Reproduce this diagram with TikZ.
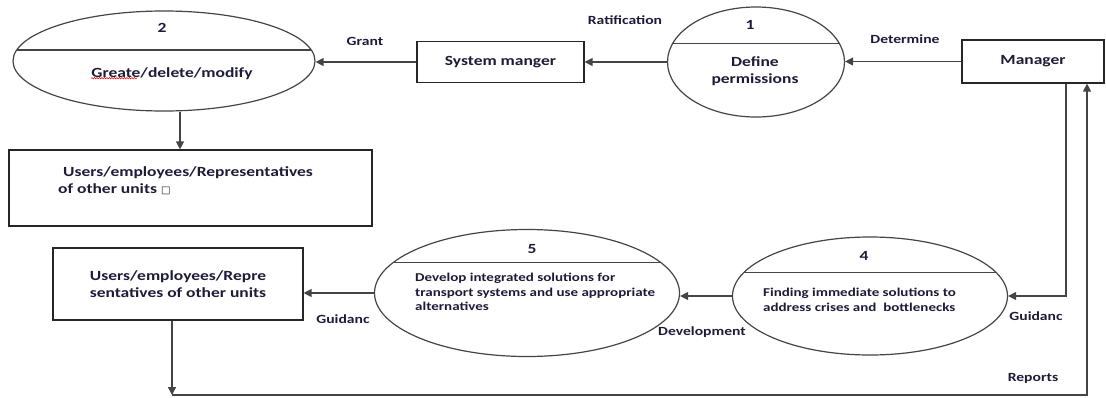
\documentclass[tikz,border=0pt]{standalone}
\usepackage{fontspec}
\setmainfont{Carlito}[FakeStretch=1.25]
\newfontfamily\symfont{DejaVu Sans}
\usetikzlibrary{shapes.geometric,arrows.meta,calc,decorations.pathmorphing}
\definecolor{dfdtext}{HTML}{1C1C38}
\definecolor{dfdline}{HTML}{444444}

\begin{document}
\begin{tikzpicture}[x=1pt,y=1pt,yscale=-1,
	proc/.style={ellipse,draw=dfdline,line width=1.2pt,inner sep=0pt,
		path picture={\draw[dfdline,line width=1.3pt]
			($(path picture bounding box.north west)!#1!(path picture bounding box.south west)$) --
			($(path picture bounding box.north east)!#1!(path picture bounding box.south east)$);}},
	store/.style={draw=black!85,line width=1.2pt,inner sep=2pt,align=center,
		font=\bfseries\fontsize{14}{17}\selectfont,text=dfdtext},
	txt/.style={text=dfdtext,font=\bfseries\fontsize{14}{17}\selectfont,inner sep=0pt},
	small/.style={text=dfdtext,font=\bfseries\fontsize{12}{14.5}\selectfont,inner sep=0pt,align=left},
	lbl/.style={text=dfdtext,font=\bfseries\fontsize{12.5}{15}\selectfont,inner sep=0pt},
	flow/.style={draw=dfdline,line width=1.3pt,-{Triangle[length=8pt,width=8pt]}}
	]
	\useasboundingbox (0,0) rectangle (1106,397);
	
	%Shape: Ellipse [process 2]
	\node [proc=0.39,minimum width=302,minimum height=100] (p2) at (164,61) {};
	%Shape: Ellipse [process 1]
	\node [proc=0.33,minimum width=177,minimum height=110] (p1) at (756,62) {};
	%Shape: Ellipse [process 4]
	\node [proc=0.30,minimum width=275,minimum height=118] (p4) at (870,296) {};
	%Shape: Ellipse [process 5]
	\node [proc=0.26,minimum width=305,minimum height=127] (p5) at (527,293) {};
	
	%Shape: Rectangle
	\node [store,minimum width=363,minimum height=76] (users1) at (190.5,188) {};
	\node [store,minimum width=167,minimum height=41] (sysmgr) at (500.5,62) {System manger};
	\node [store,minimum width=142,minimum height=43] (mgr) at (1033,61.5) {Manager};
	\node [store,minimum width=250,minimum height=72] (users2) at (178,284) {Users/employees/Repre\\sentatives of other units};
	
	%Straight Lines
	\draw [flow] (mgr.west) -- (mgr.west -| p1.east);
	\draw [flow] (p1.west) -- (p1.west -| sysmgr.east);
	\draw [flow] (sysmgr.west) -- (sysmgr.west -| p2.east);
	\draw [flow] ([xshift=16pt]p2.south) -- ([xshift=16pt]p2.south |- users1.north);
	\draw [flow] ([xshift=33pt]mgr.south) |- (p4.east);
	\draw [flow] (p4.west) -- (p4.west -| p5.east);
	\draw [flow] (p5.west) -- (p5.west -| users2.east);
	\coordinate (rep) at (172,395);
	\draw [flow] (users2.south -| rep) -- (rep);
	\draw [flow] (rep) -| ([xshift=54pt]mgr.south);
	
	% Text Node
	\node [txt] (n2) at (162,28) {2};
	\node [txt] (t2) at (172,74) {Greate/delete/modify};
	\draw [red,line width=0.5pt,decorate,decoration={snake,amplitude=0.7pt,segment length=2.5pt}] ([yshift=-2pt]t2.south west) -- ([xshift=46pt,yshift=-2pt]t2.south west);
	% Text Node
	\node [txt] (n1) at (750,25) {1};
	\node [txt,align=center] (t1) at (755,71) {Define\\permissions};
	% Text Node
	\node [txt] (n4) at (864,256) {4};
	\node [small,anchor=west] (t4) at (763,300) {Finding immediate solutions to\\address crises and\ \ bottlenecks};
	% Text Node
	\node [txt] (n5) at (532,249) {5};
	\node [small,anchor=north west] (t5) at (415,273) {Develop integrated solutions for\\transport systems and use appropriate\\alternatives};
	% Text Node
	\node [txt,align=left,anchor=north west] (tu1) at (58,166) {\hspace*{5pt}Users/employees/Representatives\\of other units {\symfont\fontsize{10}{12}\selectfont □}};
	
	% Text Node
	\node [lbl] (lgrant) at (365,41) {Grant};
	\node [lbl] (lratif) at (625,20) {Ratification};
	\node [lbl] (ldeterm) at (905,39) {Determine};
	\node [lbl] (lguid1) at (1036,316) {Guidanc};
	\node [lbl] (lrep) at (1033,378) {Reports};
	\node [lbl] (ldevel) at (702,332) {Development};
	\node [lbl] (lguid2) at (343,319) {Guidanc};
	
\end{tikzpicture}
\end{document}
